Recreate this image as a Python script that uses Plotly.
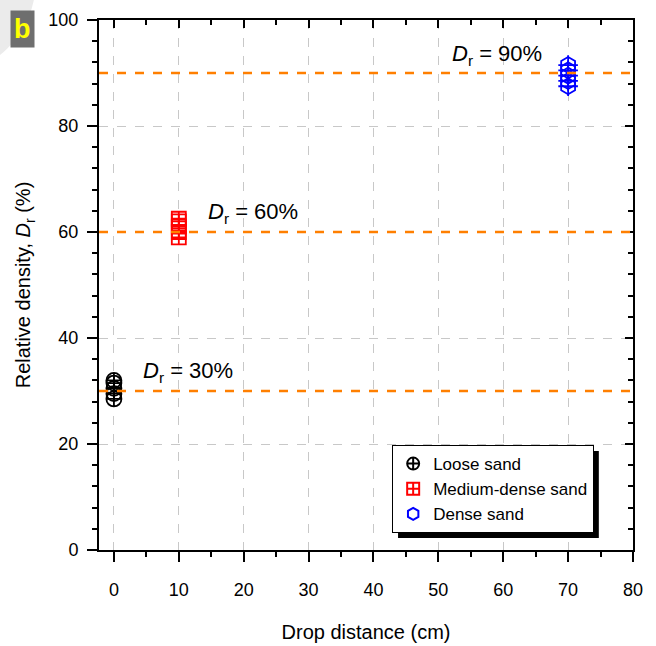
import plotly.graph_objects as go

loose_x = [0, 0, 0, 0, 0]
loose_y = [28.5, 29.5, 30.5, 31.5, 32.0]
medium_x = [10, 10, 10, 10, 10]
medium_y = [59.0, 60.0, 61.0, 62.0, 62.5]
dense_x = [70, 70, 70, 70, 70]
dense_y = [87.5, 88.5, 89.5, 90.5, 91.5]
target_dr = [30, 60, 90]
target_labels = ["30%", "60%", "90%"]
label_pos_x = [4.2, 14.2, 51.8]
label_pos_y = [33.6, 63.6, 93.4]

FONT = "Liberation Sans, Arial, sans-serif"
XR = [-2.3, 80]
YR = [0, 100]

fig = go.Figure()

for y in target_dr:
    fig.add_hline(y=y, line=dict(color="#FF7F00", width=2.5, dash="dash"), layer="above")

fig.add_trace(go.Scatter(x=loose_x, y=loose_y, mode="markers", name="Loose sand",
                         marker=dict(symbol="circle-cross-open", size=15, color="black",
                                     line=dict(width=1.8, color="black"))))
fig.add_trace(go.Scatter(x=medium_x, y=medium_y, mode="markers", name="Medium-dense sand",
                         marker=dict(symbol="square-cross-open", size=14, color="red",
                                     line=dict(width=1.8, color="red"))))
fig.add_trace(go.Scatter(x=dense_x, y=dense_y, mode="markers", name="Dense sand",
                         marker=dict(symbol="hexagon-open", size=16, color="blue",
                                     line=dict(width=1.8, color="blue"))))
fig.add_trace(go.Scatter(x=dense_x, y=dense_y, mode="markers", showlegend=False,
                         marker=dict(symbol="cross-thin-open", size=14, color="blue",
                                     line=dict(width=1.8, color="blue"))))
# dummy trace to register the mirrored tick axes
fig.add_trace(go.Scatter(x=[], y=[], xaxis="x2", yaxis="y2", showlegend=False, hoverinfo="skip"))

for lx, ly, lab in zip(label_pos_x, label_pos_y, target_labels):
    fig.add_annotation(x=lx, y=ly, xanchor="left", yanchor="middle", showarrow=False,
                       text="<i>D</i><sub>r</sub> = " + lab,
                       font=dict(size=22, color="black", family=FONT))

# light grey corner decoration
fig.add_shape(type="circle", xref="paper", yref="paper", x0=-0.4775, x1=-0.118, y0=0.894, y1=1.2566,
              fillcolor="#EBEBEB", line=dict(width=0), layer="above")

# legend shadow
fig.add_shape(type="rect", xref="paper", yref="paper", x0=0.560, x1=0.936, y0=0.0226, y1=0.187,
              fillcolor="black", line=dict(width=0), layer="below")

# panel label
fig.add_annotation(xref="paper", yref="paper", x=-0.166, y=1.019, xanchor="left", yanchor="top",
                   showarrow=False, text="<b>b</b>", bgcolor="#6E6E6E",
                   font=dict(size=27, color="#FFFF00", family=FONT), borderpad=3)

tickfont = dict(size=18, family=FONT, color="black")
titlefont = dict(size=20, family=FONT, color="black")

fig.update_layout(
    width=656, height=646,
    margin=dict(l=99, r=23, t=20, b=96),
    plot_bgcolor="white", paper_bgcolor="white",
    font=dict(family=FONT, color="black"),
    xaxis=dict(range=XR, tickmode="array", tickvals=[0, 10, 20, 30, 40, 50, 60, 70, 80],
               automargin=False,
               showline=True, linecolor="black", linewidth=2, mirror=True,
               ticks="outside", ticklen=10, tickwidth=2, tickcolor="black",
               minor=dict(ticks="outside", ticklen=5, tickwidth=2, tickcolor="black",
                          dtick=5, tick0=0, showgrid=False),
               showgrid=True, gridcolor="#C8C8C8", griddash="dash", gridwidth=1,
               zeroline=False, tickfont=tickfont, ticklabelstandoff=12,
               title=dict(text="Drop distance (cm)", font=titlefont, standoff=26)),
    yaxis=dict(range=YR, tickmode="array", tickvals=[0, 20, 40, 60, 80, 100],
               automargin=False,
               showline=True, linecolor="black", linewidth=2, mirror=True,
               ticks="outside", ticklen=10, tickwidth=2, tickcolor="black",
               minor=dict(ticks="outside", ticklen=5, tickwidth=2, tickcolor="black",
                          dtick=4, tick0=0, showgrid=False),
               showgrid=True, gridcolor="#C8C8C8", griddash="dash", gridwidth=1,
               zeroline=False, tickfont=tickfont, ticklabelstandoff=5,
               title=dict(text="Relative density, <i>D</i><sub>r</sub> (%)", font=titlefont, standoff=12)),
    xaxis2=dict(range=XR, overlaying="x", side="top", showline=False, showgrid=False,
                automargin=False,
                zeroline=False, showticklabels=False, tickmode="array",
                tickvals=[0, 10, 20, 30, 40, 50, 60, 70, 80],
                ticks="inside", ticklen=8, tickwidth=2, tickcolor="black",
                minor=dict(ticks="inside", ticklen=5, tickwidth=2, tickcolor="black",
                           dtick=5, tick0=0, showgrid=False)),
    yaxis2=dict(range=YR, overlaying="y", side="right", showline=False, showgrid=False,
                automargin=False,
                zeroline=False, showticklabels=False, tickmode="array",
                tickvals=[0, 20, 40, 60, 80, 100],
                ticks="inside", ticklen=8, tickwidth=2, tickcolor="black",
                minor=dict(ticks="inside", ticklen=5, tickwidth=2, tickcolor="black",
                           dtick=4, tick0=0, showgrid=False)),
    legend=dict(x=0.549, y=0.198, xanchor="left", yanchor="top",
                bgcolor="white", bordercolor="black", borderwidth=1,
                font=dict(size=17, family=FONT, color="black"),
                itemsizing="constant", tracegroupgap=0),
)

fig.write_html("out.html")
